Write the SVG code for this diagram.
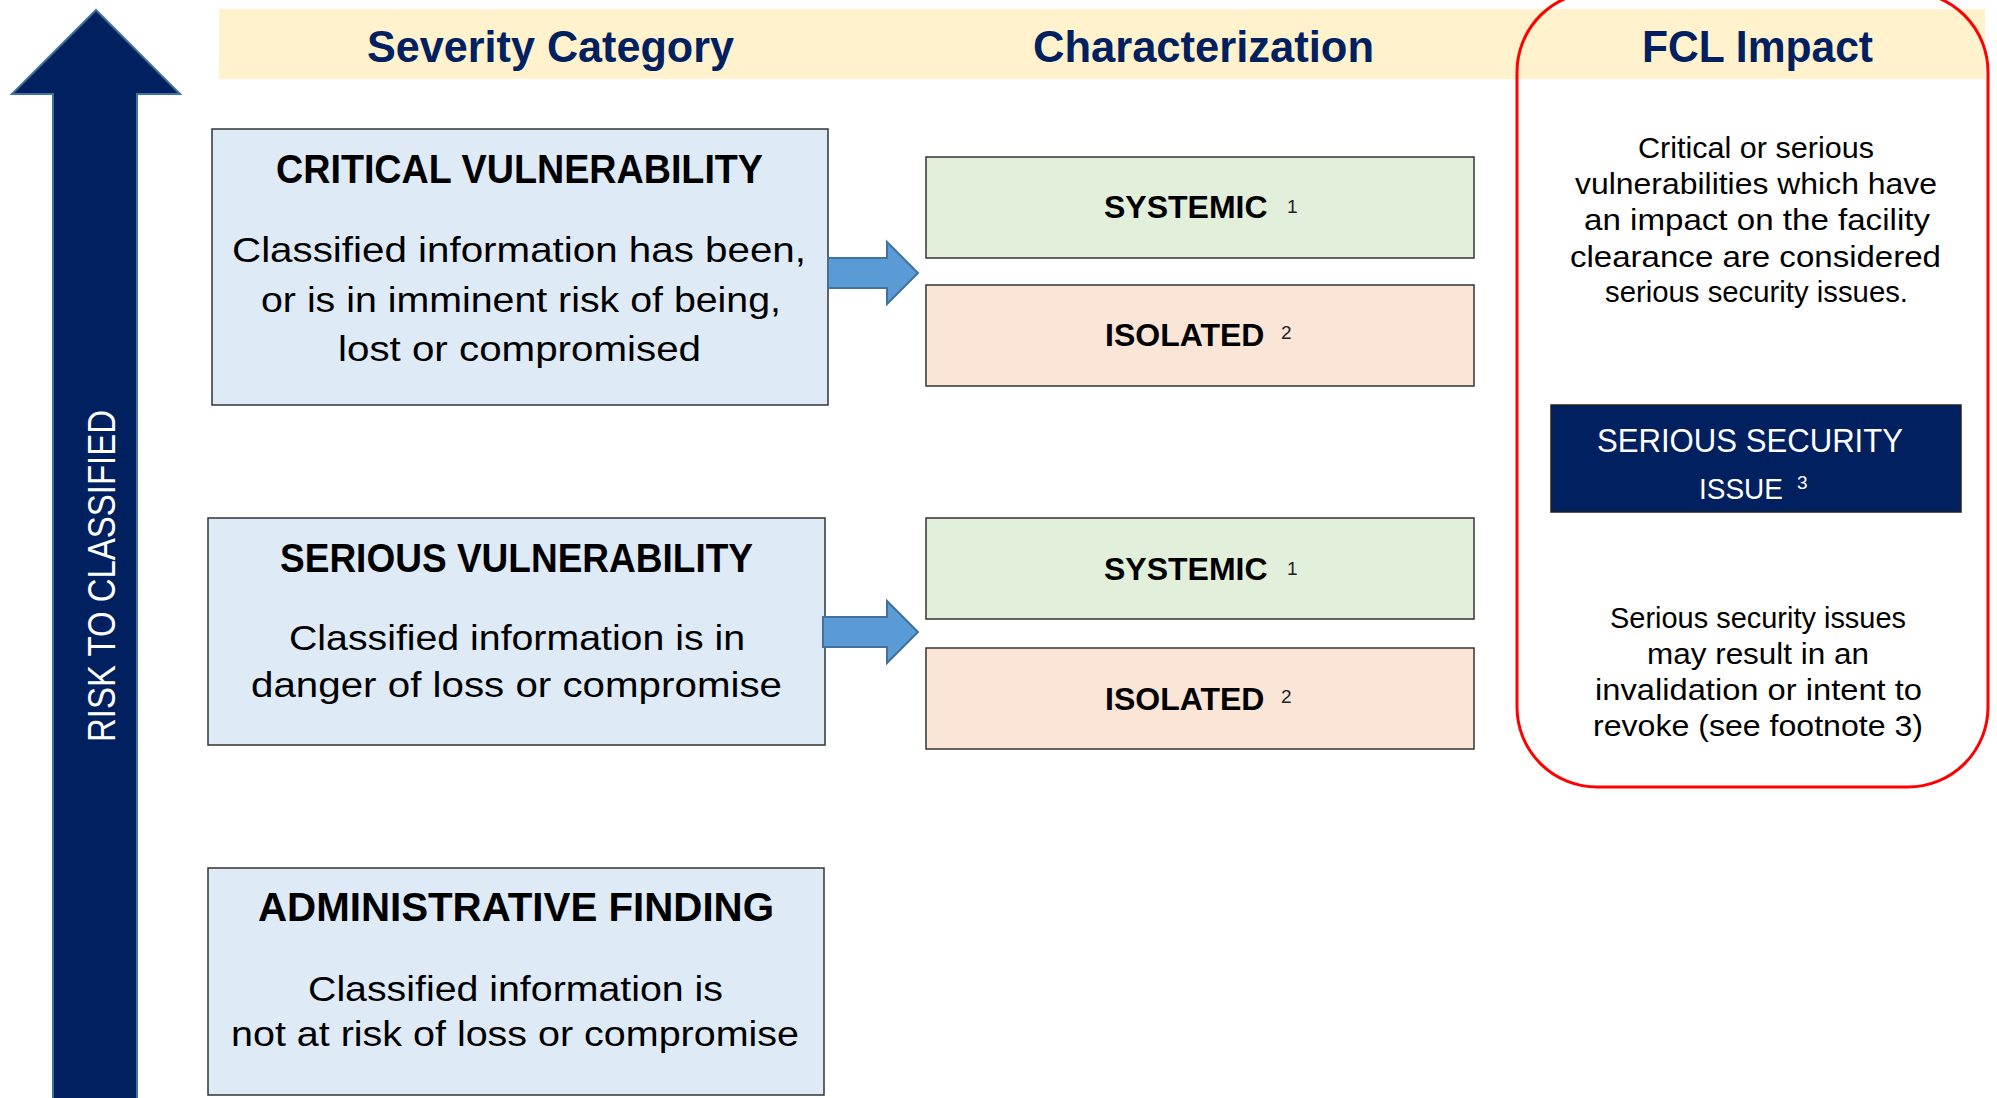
<svg xmlns="http://www.w3.org/2000/svg" width="1997" height="1098" viewBox="0 0 1997 1098">
<style>
.hdr{font-family:"Liberation Sans",Arial,sans-serif;font-weight:bold;font-size:44px;fill:#002060}
.ttl{font-family:"Liberation Sans",Arial,sans-serif;font-weight:bold;font-size:41px;fill:#000}
.body{font-family:"Liberation Sans",Arial,sans-serif;font-size:35px;fill:#000}
.chr{font-family:"Liberation Sans",Arial,sans-serif;font-weight:bold;font-size:32px;fill:#000}
.sup{font-family:"Liberation Sans",Arial,sans-serif;font-weight:normal;font-size:19px;fill:#222}
.fcl{font-family:"Liberation Sans",Arial,sans-serif;font-size:29px;fill:#000}
.box{stroke:#333;stroke-width:1.5}
.blue{fill:#DEEAF6}
.green{fill:#E2EFDA}
.peach{fill:#FBE5D6}
.conn{fill:#5B9BD5;stroke:#41719C;stroke-width:2}
.wht{font-family:"Liberation Sans",Arial,sans-serif;font-size:34px;fill:#fff}
.wsup{font-family:"Liberation Sans",Arial,sans-serif;font-size:19px;fill:#fff}
</style>
<rect width="1997" height="1098" fill="#fff"/>
<g id="header">
<rect x="219" y="9" width="1766" height="70" fill="#FFF2CC"/>
<text class="hdr" x="367" y="62" textLength="367" lengthAdjust="spacingAndGlyphs">Severity Category</text>
<text class="hdr" x="1033" y="62" textLength="341" lengthAdjust="spacingAndGlyphs">Characterization</text>
<text class="hdr" x="1642" y="62" textLength="231" lengthAdjust="spacingAndGlyphs">FCL Impact</text>
</g>
<g id="risk-arrow">
<polygon points="96,10 180,94 137,94 137,1102 53,1102 53,94 12,94" fill="#002060" stroke="#41719C" stroke-width="2"/>
<text class="wht" transform="translate(115,742) rotate(-90)" x="0" y="0" style="font-size:38px" textLength="332" lengthAdjust="spacingAndGlyphs">RISK TO CLASSIFIED</text>
</g>
<g id="critical">
<rect class="box blue" x="212" y="129" width="616" height="276"/>
<text class="ttl" x="276" y="183" textLength="487" lengthAdjust="spacingAndGlyphs">CRITICAL VULNERABILITY</text>
<text class="body" x="232" y="262" textLength="574" lengthAdjust="spacingAndGlyphs">Classified information has been,</text>
<text class="body" x="261" y="312" textLength="520" lengthAdjust="spacingAndGlyphs">or is in imminent risk of being,</text>
<text class="body" x="338" y="361" textLength="363" lengthAdjust="spacingAndGlyphs">lost or compromised</text>
</g>
<g id="serious">
<rect class="box blue" x="208" y="518" width="617" height="227"/>
<text class="ttl" x="280" y="572" textLength="473" lengthAdjust="spacingAndGlyphs">SERIOUS VULNERABILITY</text>
<text class="body" x="289" y="650" textLength="456" lengthAdjust="spacingAndGlyphs">Classified information is in</text>
<text class="body" x="251" y="697" textLength="531" lengthAdjust="spacingAndGlyphs">danger of loss or compromise</text>
</g>
<g id="administrative">
<rect class="box blue" x="208" y="868" width="616" height="227"/>
<text class="ttl" x="258" y="921" textLength="516" lengthAdjust="spacingAndGlyphs">ADMINISTRATIVE FINDING</text>
<text class="body" x="308" y="1001" textLength="415" lengthAdjust="spacingAndGlyphs">Classified information is</text>
<text class="body" x="231" y="1046" textLength="568" lengthAdjust="spacingAndGlyphs">not at risk of loss or compromise</text>
</g>
<g id="systemic-1">
<rect class="box green" x="926" y="157" width="548" height="101"/>
<text class="chr" x="1104" y="218">SYSTEMIC</text>
<text class="sup" x="1287" y="213">1</text>
</g>
<g id="isolated-1">
<rect class="box peach" x="926" y="285" width="548" height="101"/>
<text class="chr" x="1105" y="346">ISOLATED</text>
<text class="sup" x="1281" y="339">2</text>
</g>
<g id="systemic-2">
<rect class="box green" x="926" y="518" width="548" height="101"/>
<text class="chr" x="1104" y="580">SYSTEMIC</text>
<text class="sup" x="1287" y="575">1</text>
</g>
<g id="isolated-2">
<rect class="box peach" x="926" y="648" width="548" height="101"/>
<text class="chr" x="1105" y="710">ISOLATED</text>
<text class="sup" x="1281" y="703">2</text>
</g>
<g id="fcl-impact">
<rect x="1517" y="-8" width="471" height="795" rx="80" ry="80" fill="none" stroke="#FF0000" stroke-width="3"/>
<text class="fcl" x="1638" y="158" textLength="236" lengthAdjust="spacingAndGlyphs">Critical or serious</text>
<text class="fcl" x="1575" y="194" textLength="362" lengthAdjust="spacingAndGlyphs">vulnerabilities which have</text>
<text class="fcl" x="1584" y="230" textLength="346" lengthAdjust="spacingAndGlyphs">an impact on the facility</text>
<text class="fcl" x="1570" y="267" textLength="371" lengthAdjust="spacingAndGlyphs">clearance are considered</text>
<text class="fcl" x="1605" y="302" textLength="303" lengthAdjust="spacingAndGlyphs">serious security issues.</text>
<text class="fcl" x="1610" y="628" textLength="296" lengthAdjust="spacingAndGlyphs">Serious security issues</text>
<text class="fcl" x="1647" y="664" textLength="222" lengthAdjust="spacingAndGlyphs">may result in an</text>
<text class="fcl" x="1595" y="700" textLength="327" lengthAdjust="spacingAndGlyphs">invalidation or intent to</text>
<text class="fcl" x="1593" y="736" textLength="330" lengthAdjust="spacingAndGlyphs">revoke (see footnote 3)</text>
</g>
<g id="serious-security-issue">
<rect x="1551" y="405" width="410" height="107" fill="#002060" stroke="#222" stroke-width="1.5"/>
<text class="wht" x="1597" y="452" textLength="306" lengthAdjust="spacingAndGlyphs">SERIOUS SECURITY</text>
<text class="wht" x="1699" y="499" style="font-size:30px" textLength="84" lengthAdjust="spacingAndGlyphs">ISSUE</text>
<text class="wsup" x="1797" y="489">3</text>
</g>
<g id="connectors">
<polygon class="conn" points="828,258 887,258 887,242 918,273 887,304 887,288 828,288"/>
<polygon class="conn" points="823,617 887,617 887,601 918,632 887,663 887,647 823,647"/>
</g>
</svg>
